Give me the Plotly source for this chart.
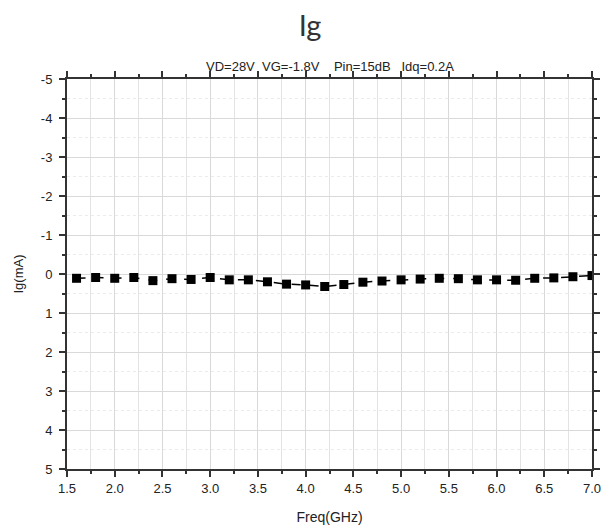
import plotly.graph_objects as go

freq = [1.6, 1.8, 2.0, 2.2, 2.4, 2.6, 2.8, 3.0, 3.2, 3.4, 3.6, 3.8, 4.0, 4.2,
        4.4, 4.6, 4.8, 5.0, 5.2, 5.4, 5.6, 5.8, 6.0, 6.2, 6.4, 6.6, 6.8, 7.0]
ig = [0.11, 0.09, 0.11, 0.09, 0.17, 0.12, 0.14, 0.09, 0.15, 0.15, 0.20, 0.26, 0.28, 0.32,
      0.27, 0.21, 0.18, 0.15, 0.13, 0.11, 0.12, 0.15, 0.15, 0.16, 0.11, 0.10, 0.07, 0.04]

y_tickvals = [-5, -4, -3, -2, -1, 0, 1, 2, 3, 4, 5]
y_ticktext = ["-5", "-4", "-3", "-2", "-1", "0", "1", "2", "3", "4", "5"]

FONT = "Liberation Sans, Arial, sans-serif"
W, H = 602, 523  # page body has an 8px default margin

fig = go.Figure()
fig.add_trace(go.Scatter(
    x=freq, y=ig, mode="lines+markers",
    line=dict(color="black", width=1.5, dash="dash"),
    marker=dict(symbol="square", size=9, color="black"),
    showlegend=False,
))

axis_common = dict(
    showline=True, linecolor="#333333", linewidth=2, mirror="allticks",
    ticks="outside", tickcolor="#333333", ticklen=6, tickwidth=1.5,
    showgrid=True, gridcolor="#d9d9d9", gridwidth=1,
    zeroline=False, automargin=False,
    tickfont=dict(family=FONT, size=13, color="#222222"),
)

fig.update_xaxes(
    range=[1.5, 7.0], dtick=0.5, tick0=1.5, tickformat=".1f",
    minor=dict(dtick=0.25, ticks="outside", ticklen=3, tickcolor="#333333",
               showgrid=True, gridcolor="#e3e3e3", gridwidth=1),
    title=dict(text="Freq(GHz)", font=dict(family=FONT, size=14, color="#222222"), standoff=18),
    **axis_common,
)
fig.update_yaxes(
    range=[5, -5], tickvals=y_tickvals, ticktext=y_ticktext,
    ticklabelstandoff=4,
    minor=dict(dtick=0.5, ticks="outside", ticklen=3, tickcolor="#333333",
               showgrid=True, gridcolor="#ebebeb", gridwidth=1, griddash="dot"),
    title=dict(text="Ig(mA)", font=dict(family=FONT, size=13, color="#222222"), standoff=14),
    **axis_common,
)

fig.update_layout(
    width=W, height=H, autosize=False,
    margin=dict(l=59, r=18, t=71, b=62),
    plot_bgcolor="white", paper_bgcolor="white",
    title=dict(text="Ig", x=302 / W, xanchor="center", y=1 - 18 / H, yanchor="middle",
               font=dict(family="Lato, Liberation Sans, sans-serif", size=29, color="#333333")),
    annotations=[dict(
        text="VD=28V  VG=-1.8V    Pin=15dB   Idq=0.2A",
        xref="paper", yref="paper", x=0.5, y=1, yshift=13,
        xanchor="center", yanchor="middle", showarrow=False,
        font=dict(family=FONT, size=13, color="#222222"),
    )],
)

fig.write_html("out.html")
